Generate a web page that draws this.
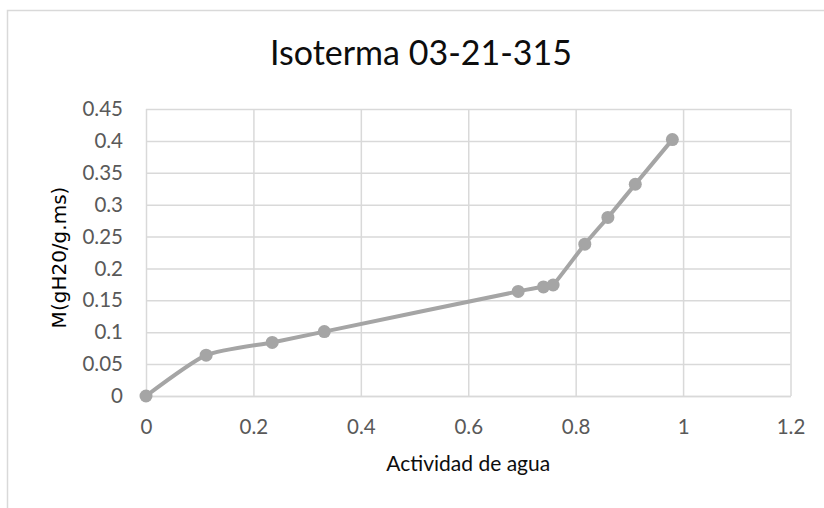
<!DOCTYPE html>
<html>
<head>
<meta charset="utf-8">
<script src="https://cdn.jsdelivr.net/npm/d3@7"></script>
<style>
  html, body { margin: 0; padding: 0; background: #fff; }
</style>
</head>
<body>
<div id="chart"></div>
<script>
// water activity (x) and moisture content (y)
const activity = [0, 0.112, 0.235, 0.332, 0.693, 0.74, 0.758, 0.817, 0.86, 0.911, 0.98]
const moisture = [0, 0.064, 0.084, 0.101, 0.164, 0.171, 0.174, 0.238, 0.28, 0.332, 0.402]
const xTicks = [0, 0.2, 0.4, 0.6, 0.8, 1, 1.2]
const yTicks = [0, 0.05, 0.1, 0.15, 0.2, 0.25, 0.3, 0.35, 0.4, 0.45]

const width = 824
const height = 508
const plot = { left: 146, right: 790.5, top: 109, bottom: 396 }

const svg = d3
  .select('#chart')
  .append('svg')
  .attr('width', width)
  .attr('height', height)

// chart area border (cut off on the right and bottom)
svg
  .append('rect')
  .attr('x', 7.5)
  .attr('y', 10.5)
  .attr('width', 830)
  .attr('height', 510)
  .attr('fill', '#fff')
  .attr('stroke', '#d9d9d9')
  .attr('stroke-width', 1.5)

const x = d3
  .scaleLinear()
  .domain([0, 1.2])
  .range([plot.left, plot.right])

const y = d3
  .scaleLinear()
  .domain([0, 0.45])
  .range([plot.bottom, plot.top])

const xAxis = g =>
  g
    .attr('transform', `translate(0,${plot.bottom})`)
    .call(
      d3
        .axisBottom(x)
        .tickValues(xTicks)
        .tickFormat(d => String(d))
        .tickSizeInner(-(plot.bottom - plot.top))
        .tickSizeOuter(0)
        .tickPadding(23)
    )
    .call(g => g.select('.domain').attr('stroke', '#d9d9d9').attr('stroke-width', 1.5))
    .call(g => g.selectAll('.tick line').attr('stroke', '#d9d9d9').attr('stroke-width', 1.5))
    .call(g =>
      g
        .selectAll('.tick text')
        .attr('fill', '#595959')
        .style('font-family', 'Lato')
        .style('font-size', '20.5px')
    )

const yAxis = g =>
  g
    .attr('transform', `translate(${plot.left},0)`)
    .call(
      d3
        .axisLeft(y)
        .tickValues(yTicks)
        .tickFormat(d => String(+d.toFixed(2)))
        .tickSizeInner(-(plot.right - plot.left))
        .tickSizeOuter(0)
        .tickPadding(23)
    )
    .call(g => g.select('.domain').remove())
    .call(g => g.selectAll('.tick line').attr('stroke', '#d9d9d9').attr('stroke-width', 1.5))
    .call(g =>
      g
        .selectAll('.tick text')
        .attr('fill', '#595959')
        .style('font-family', 'Lato')
        .style('font-size', '20.5px')
    )

svg.append('g').attr('class', 'y-axis').call(yAxis)
svg.append('g').attr('class', 'x-axis').call(xAxis)

const points = activity.map((a, i) => ({ a, m: moisture[i] }))

// smoothed line, a bit tighter than plain catmull-rom
const line = d3
  .line()
  .x(d => x(d.a))
  .y(d => y(d.m))
  .curve(d3.curveCardinal.tension(0.4))

svg
  .append('path')
  .datum(points)
  .attr('fill', 'none')
  .attr('stroke', '#a5a5a5')
  .attr('stroke-width', 4)
  .attr('stroke-linejoin', 'round')
  .attr('d', line)

svg
  .append('g')
  .selectAll('circle')
  .data(points)
  .join('circle')
  .attr('cx', d => x(d.a))
  .attr('cy', d => y(d.m))
  .attr('r', 6.5)
  .attr('fill', '#a5a5a5')

// titles
svg
  .append('text')
  .attr('x', 421)
  .attr('y', 65)
  .attr('text-anchor', 'middle')
  .attr('fill', '#0d0d0d')
  .style('font-family', 'Lato')
  .style('font-size', '34px')
  .text('Isoterma 03-21-315')

svg
  .append('text')
  .attr('x', (plot.left + plot.right) / 2)
  .attr('y', 471)
  .attr('text-anchor', 'middle')
  .attr('fill', '#0d0d0d')
  .style('font-family', 'Lato')
  .style('font-size', '21px')
  .text('Actividad de agua')

svg
  .append('text')
  .attr('transform', `translate(66,${(plot.top + plot.bottom) / 2 + 5}) rotate(-90)`)
  .attr('text-anchor', 'middle')
  .attr('fill', '#000')
  .style('font-family', 'DejaVu Sans')
  .style('font-size', '20px')
  .text('M(gH20/g.ms)')
</script>
</body>
</html>
